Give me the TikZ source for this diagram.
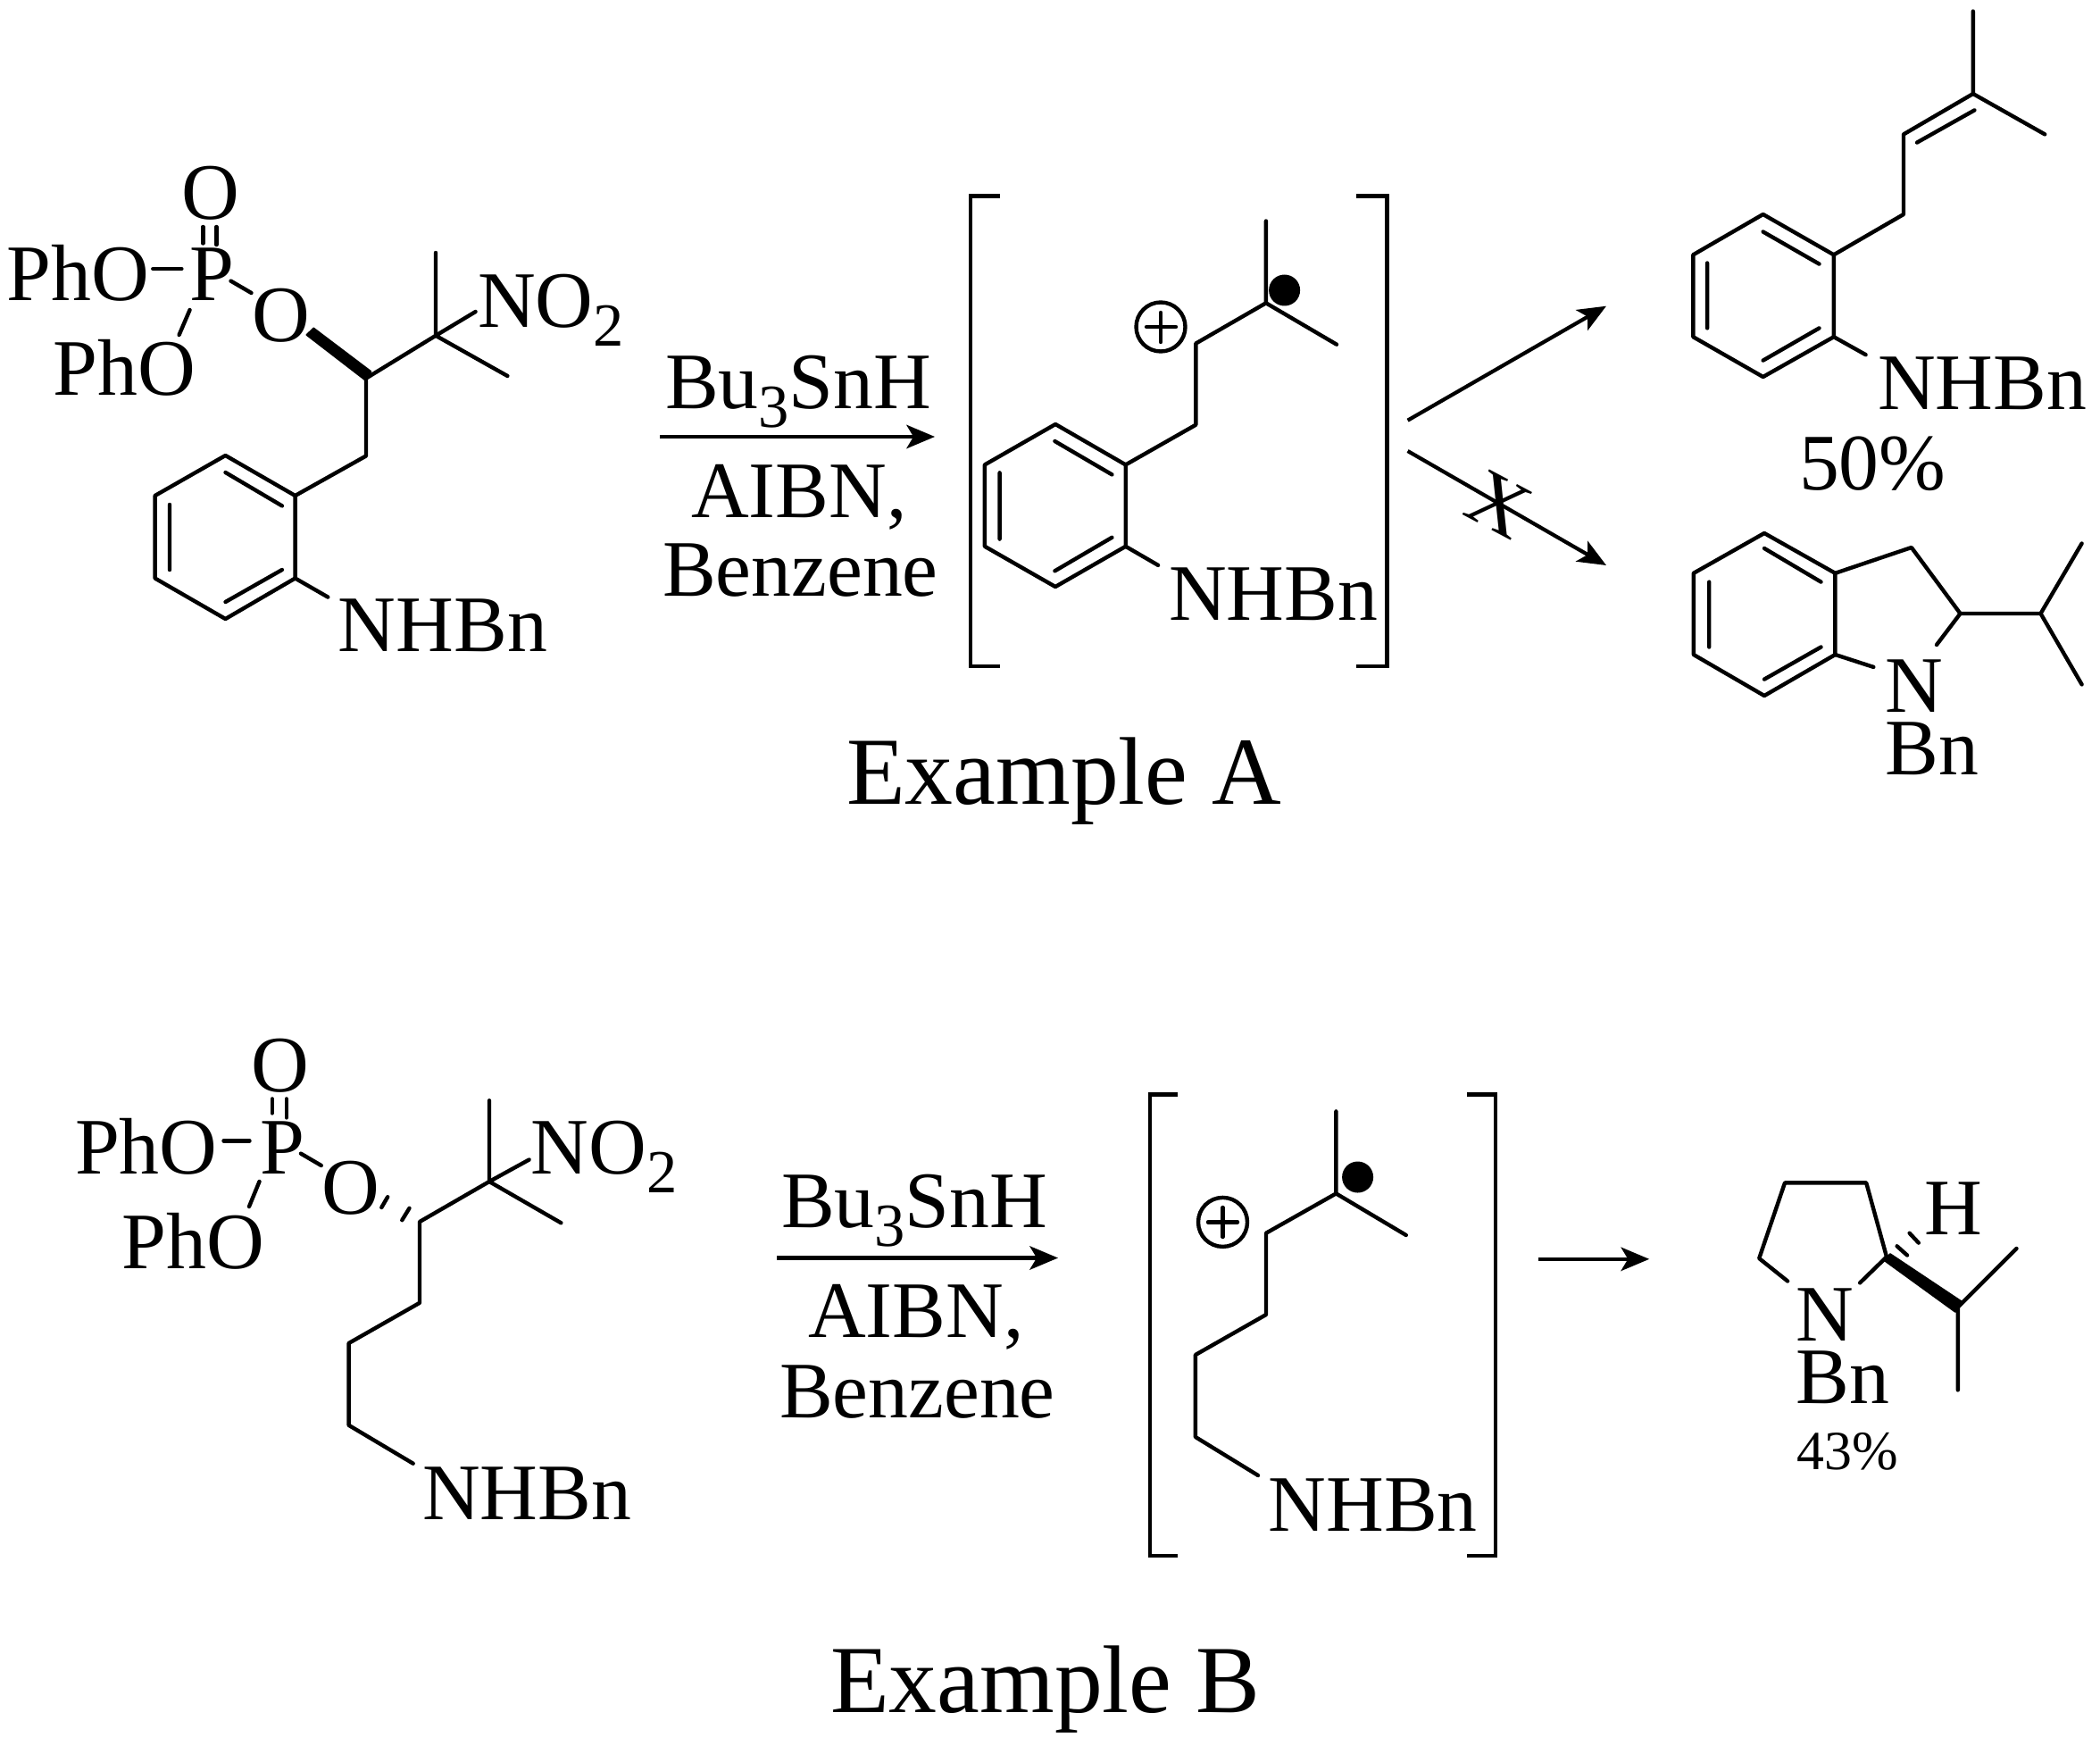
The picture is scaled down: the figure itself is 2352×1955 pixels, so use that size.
\documentclass[tikz,border=0pt]{standalone}
\usepackage{fontspec}
\setmainfont{Liberation Serif}
\usetikzlibrary{arrows.meta}
\newcommand{\subd}[1]{\raisebox{-6pt}{\fontsize{19.5}{19.5}\selectfont #1}}
\tikzset{
  bond/.style={line width=1.25pt,line cap=round,line join=round},
  brack/.style={line width=1.3pt,line cap=butt,line join=miter},
  rxn/.style={line width=1.2pt,-{Stealth[length=9pt,width=7.5pt,inset=2.2pt]}},
  lbl/.style={anchor=base west,inner sep=0pt,outer sep=0pt,yshift=-0.6pt,font=\fontsize{25.5}{25.5}\selectfont},
  small/.style={anchor=base west,inner sep=0pt,outer sep=0pt,font=\fontsize{17.6}{17.6}\selectfont},
  title/.style={anchor=base west,inner sep=0pt,outer sep=0pt,font=\fontsize{30.6}{30.6}\selectfont},
  wedge/.style={fill=black,draw=black,line width=0.5pt,line join=round},
  dotr/.style={fill=black,draw=none},
  plusring/.style={line width=1.25pt}
}
\begin{document}
\begin{tikzpicture}[x=0.01cm,y=-0.01cm]
\useasboundingbox (0,0) rectangle (2352,1955);
% ---------- Example A substrate
\draw[bond] (252.5,510)--(330.6,555)--(330.6,647.5)--(252.5,693)--(173.6,647.5)--(173.6,555)--cycle;
\draw[bond] (252.5,529)--(315.9,566.4) (190,565)--(190,638) (252.5,674)--(315.9,638);
\draw[bond] (330.6,555)--(410,510.5)--(410,423.6)--(488,375.8)--(488,283);
\draw[bond] (488,375.8)--(568.4,421) (488,375.8)--(532.6,349);
\draw[bond] (330.6,647.5)--(367.3,668.6);
\draw[wedge] (343.4,375)--(351.2,367.4)--(415.5,416)--(410,426.3)--cycle;
\draw[bond] (171.3,301)--(203.4,301);
\draw[bond] (227.3,254)--(227.3,272.5) (242.4,254)--(242.4,274);
\draw[bond] (258.5,314.6)--(281.5,328);
\draw[bond] (212.6,347)--(200.6,375);
\node[lbl] (a1) at (8,334.8) {PhO};
\node[lbl] (a2) at (212.6,334.8) {P};
\node[lbl] (a3) at (203,243) {O};
\node[lbl] (a4) at (282,380.8) {O};
\node[lbl] (a5) at (59.7,440.8) {PhO};
\node[lbl] (a6) at (535,364) {NO\subd{2}};
\node[lbl] (a7) at (378.8,727) {NHBn};
% ---------- Example A reagents
\coordinate (aas) at (739,489);
\coordinate (aae) at (1047,489);
\draw[rxn] (aas)--(aae);
\node[lbl] (a8) at (745,455) {Bu\subd{3}SnH};
\node[lbl] (a9) at (774,577) {AIBN,};
\node[lbl] (a10) at (742,665) {Benzene};
% ---------- Example A intermediate
\draw[brack] (1120.4,219.6)--(1086.8,219.6)--(1086.8,746)--(1120.4,746);
\draw[brack] (1519,219.6)--(1553.6,219.6)--(1553.6,746)--(1519,746);
\draw[bond] (1182.1,475)--(1260.7,520.4)--(1260.7,611.8)--(1182,657)--(1102.9,611.8)--(1102.9,520.4)--cycle;
\draw[bond] (1181.4,494)--(1245.4,531.4) (1119.6,529.3)--(1119.6,603.6) (1181.4,639.3)--(1245.4,601.8);
\draw[bond] (1260.7,520.4)--(1339.3,475.7)--(1339.3,384.6)--(1417.9,339.3)--(1417.9,247.5);
\draw[bond] (1417.9,339.3)--(1497,385.7);
\draw[bond] (1260.7,611.8)--(1297.1,632.9);
\fill[dotr] (1438.6,325) circle (17.5);
\draw[plusring] (1300,366) circle (27.5);
\draw[bond] (1284,366)--(1317,366) (1300,350)--(1300,383);
\node[lbl] (a11) at (1309,692) {NHBn};
% ---------- Example A arrows
\coordinate (a1s) at (1576.6,470.7);
\coordinate (a1e) at (1799,342.7);
\coordinate (a2s) at (1576.6,505);
\coordinate (a2e) at (1799,633);
\draw[rxn] (a1s)--(a1e);
\draw[rxn] (a2s)--(a2e);
\node[inner sep=0pt,rotate=-28,font=\fontsize{25.5}{25.5}\selectfont] (ax) at (1679,565) {X};
% ---------- Example A product 1
\draw[bond] (1974.6,240)--(2053.8,285.3)--(2053.8,377.2)--(1974.6,422)--(1896.3,377.2)--(1896.3,285.3)--cycle;
\draw[bond] (1974.6,259.5)--(2037.5,295.6) (1912.1,294.5)--(1912.1,367.4) (1974.6,403.6)--(2037.5,367.4);
\draw[bond] (2053.8,285.3)--(2132,240)--(2132,150.4)--(2209.8,105)--(2209.8,12.6);
\draw[bond] (2209.8,105)--(2290.2,150.4) (2147,159.6)--(2211.4,123.4);
\draw[bond] (2053.8,377.2)--(2089.6,397.2);
\node[lbl] (a12) at (2103,456.4) {NHBn};
\node[lbl] (a13) at (2015,546.5) {50\%};
% ---------- Example A product 2
\draw[bond] (1976,597)--(2055.4,641.8)--(2055.4,733)--(1976,779)--(1896.8,733)--(1896.8,641.8)--cycle;
\draw[bond] (1976,614)--(2039.5,651.6) (1914.2,651.6)--(1914.2,724.5) (1976,760.6)--(2039.5,724.5);
\draw[bond] (2055.4,641.8)--(2140.8,613)--(2195.5,687)--(2169,722);
\draw[bond] (2055.4,733)--(2098.3,746.9);
\draw[bond] (2195.5,687)--(2285.5,687)--(2331.6,608.5) (2285.5,687)--(2331.6,766.4);
\node[lbl] (a14) at (2111.6,795) {N};
\node[lbl] (a15) at (2111.6,865.7) {Bn};
\node[title] (a16) at (948,900) {Example A};
% ---------- Example B substrate
\draw[bond] (250.5,1277.4)--(279.5,1277.4);
\draw[bond] (304.7,1230.4)--(304.7,1246.4) (320.8,1230.4)--(320.8,1251.4);
\draw[bond] (336.9,1291.6)--(359.8,1305);
\draw[bond] (290.5,1323)--(279,1351);
\draw[bond] (434.2,1340.2)--(427.3,1352) (458.5,1352.8)--(450.3,1366.2);
\draw[bond] (628.4,1369.3)--(548,1323)--(548,1232.3);
\draw[bond] (548,1323)--(592.6,1298.5);
\draw[bond] (548,1323)--(470,1368)--(470,1458.8)--(390.6,1504)--(390.6,1595.8)--(462.7,1638.7);
\node[lbl] (b1) at (84,1311.9) {PhO};
\node[lbl] (b2) at (291,1311.9) {P};
\node[lbl] (b3) at (281,1220.8) {O};
\node[lbl] (b4) at (360,1357.4) {O};
\node[lbl] (b5) at (136.7,1417.9) {PhO};
\node[lbl] (b6) at (594.9,1312.6) {NO\subd{2}};
\node[lbl] (b7) at (473.2,1699) {NHBn};
% ---------- Example B reagents
\coordinate (bas) at (870,1408.5);
\coordinate (bae) at (1185,1408.5);
\draw[rxn] (bas)--(bae);
\node[lbl] (b8) at (875,1372) {Bu\subd{3}SnH};
\node[lbl] (b9) at (905,1495) {AIBN,};
\node[lbl] (b10) at (873,1585) {Benzene};
% ---------- Example B intermediate
\draw[brack] (1319,1225.5)--(1287.9,1225.5)--(1287.9,1741.8)--(1319,1741.8);
\draw[brack] (1643,1225.5)--(1675,1225.5)--(1675,1741.8)--(1643,1741.8);
\draw[bond] (1496.4,1244.4)--(1496.4,1336.4)--(1574.8,1383);
\draw[bond] (1496.4,1336.4)--(1418,1380.7)--(1418,1472)--(1338.9,1517)--(1338.9,1609)--(1409,1652);
\fill[dotr] (1520.6,1318) circle (17.5);
\draw[plusring] (1369.5,1368.4) circle (27.5);
\draw[bond] (1353,1368.4)--(1386,1368.4) (1369.5,1352)--(1369.5,1385);
\node[lbl] (b11) at (1420.5,1712) {NHBn};
% ---------- Example B arrow
\coordinate (b1s) at (1722.8,1409.8);
\coordinate (b1e) at (1847.2,1409.8);
\draw[rxn] (b1s)--(b1e);
% ---------- Example B product
\draw[bond] (2002.1,1434.5)--(1970.2,1409)--(1999,1324.4)--(2090.2,1324.4)--(2113,1407.3)--(2083.1,1436.4);
\draw[wedge] (2110,1411)--(2117,1404)--(2198,1458)--(2190,1469)--cycle;
\draw[bond] (2258.5,1398)--(2192.8,1463.6)--(2192.8,1556.4);
\draw[bond] (2124.6,1395.3)--(2136,1405.5) (2138.6,1380.7)--(2148.8,1391.6);
\node[lbl] (b12) at (2155.2,1380.7) {H};
\node[lbl] (b13) at (2011.7,1499) {N};
\node[lbl] (b14) at (2011.7,1569.8) {Bn};
\node[small] (b15) at (2012.5,1645.5) {43\%};
\node[title] (b16) at (930,1917) {Example B};
\end{tikzpicture}
\end{document}
